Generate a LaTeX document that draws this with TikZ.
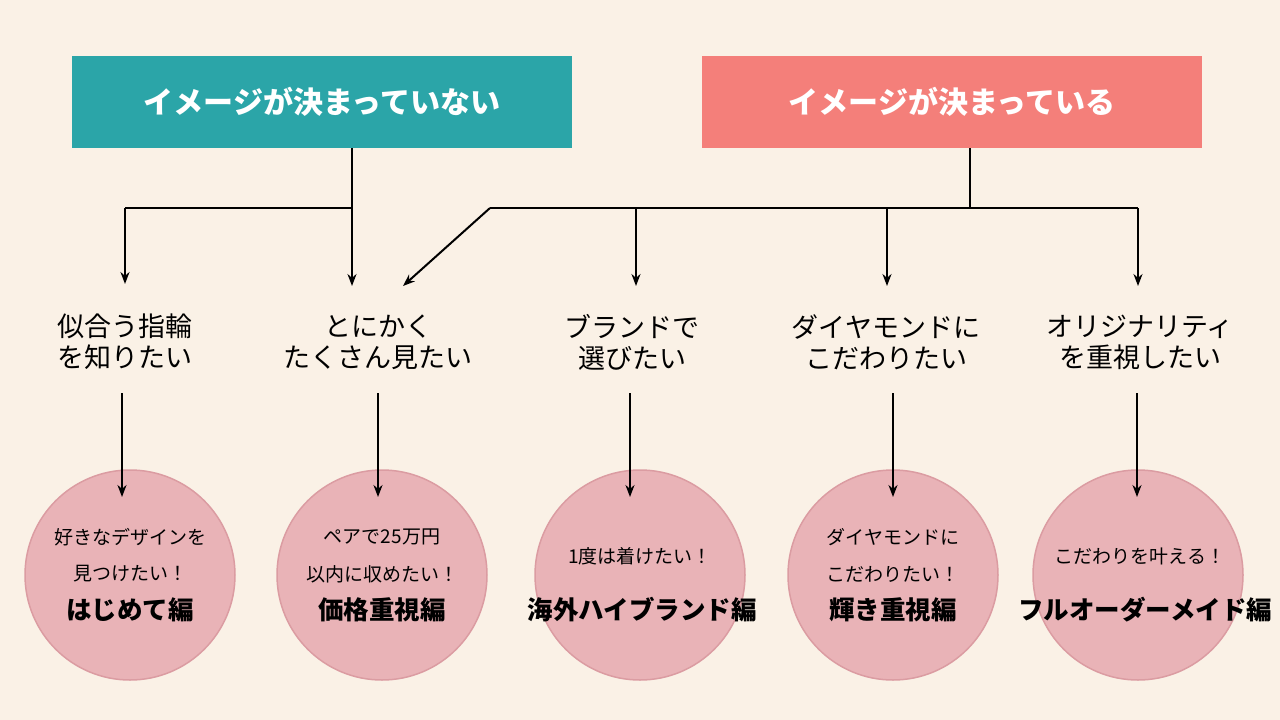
\documentclass[tikz,border=0pt]{standalone}
\usepackage{fontspec}
\setmainfont{Noto Sans CJK JP}
\usetikzlibrary{arrows.meta}
\definecolor{bg}{HTML}{FAF1E6}
\definecolor{teal}{HTML}{2BA5A8}
\definecolor{salmon}{HTML}{F47F7A}
\definecolor{circ}{HTML}{E9B3B7}
\definecolor{circe}{HTML}{DB9CA2}
\tikzset{
  x=1pt,y=-1pt,
  hdr/.style={minimum width=500pt,minimum height=92pt,inner sep=0pt,text=white,font=\fontsize{30}{32}\selectfont\bfseries},
  lbl/.style={align=center,font=\fontsize{27}{31}\selectfont},
  ball/.style={circle,minimum size=210pt,fill=circ,draw=circe,line width=1.5pt},
  sm/.style={font=\fontsize{19}{21}\selectfont},
  big/.style={font=\fontsize{25.5}{27}\selectfont\bfseries},
  con/.style={line width=2pt},
  arr/.style={line width=2pt,-{Stealth[length=12pt,width=9pt]}}
}
\begin{document}
\begin{tikzpicture}
\fill[bg] (0,0) rectangle (1280,720);
\useasboundingbox (0,0) rectangle (1280,720);
\node[hdr,fill=teal] (A) at (322,102) {イメージが決まっていない};
\node[hdr,fill=salmon] (B) at (952,102) {イメージが決まっている};
\coordinate (a0) at (352,148); \coordinate (a1) at (352,208); \coordinate (a2) at (125,208);
\coordinate (b0) at (970,148); \coordinate (b1) at (970,208); \coordinate (b2) at (490,208); \coordinate (b3) at (1138,208);
\coordinate (p1) at (636,208); \coordinate (p2) at (887,208);
\foreach \i/\x/\t in {1/125/似合う指輪\\を知りたい,2/378/とにかく\\たくさん見たい,3/632/ブランドで\\選びたい,4/886/ダイヤモンドに\\こだわりたい,5/1140/オリジナリティ\\を重視したい}
  \node[lbl] (L\i) at (\x,342) {\t};
\coordinate (t1) at (125,284); \coordinate (t2) at (352,286); \coordinate (t2b) at (403,286);
\coordinate (t3) at (636,286); \coordinate (t4) at (887,286); \coordinate (t5) at (1138,286);
\draw[con] (a0) -- (a1); \draw[con] (a2) -- (a1);
\draw[arr] (a2) -- (t1); \draw[arr] (a1) -- (t2);
\draw[con] (b0) -- (b1); \draw[con] (b2) -- (b3);
\draw[arr] (b2) -- (t2b); \draw[arr] (p1) -- (t3); \draw[arr] (p2) -- (t4); \draw[arr] (b3) -- (t5);
\node[ball] (C1) at (130,575) {}; \node[ball] (C2) at (382,575) {}; \node[ball] (C3) at (640,575) {};
\node[ball] (C4) at (893,575) {}; \node[ball] (C5) at (1138,575) {};
\foreach \i/\x in {1/122,2/378,3/630,4/893,5/1137}{
  \coordinate (s\i) at (\x,393); \coordinate (e\i) at (\x,497);
  \draw[arr] (s\i) -- (e\i);}
\node[sm] at (130,537) {好きなデザインを}; \node[sm] at (130,574) {見つけたい！}; \node[big] at (130,610) {はじめて編};
\node[sm] at (382,537) {ペアで25万円}; \node[sm] at (382,574) {以内に収めたい！}; \node[big] at (382,610) {価格重視編};
\node[sm] at (640,556) {1度は着けたい！}; \node[big] at (642,610) {海外ハイブランド編};
\node[sm] at (893,537) {ダイヤモンドに}; \node[sm] at (893,574) {こだわりたい！}; \node[big] at (893,610) {輝き重視編};
\node[sm] at (1140,556) {こだわりを叶える！}; \node[big] at (1145,610) {フルオーダーメイド編};
\end{tikzpicture}
\end{document}
